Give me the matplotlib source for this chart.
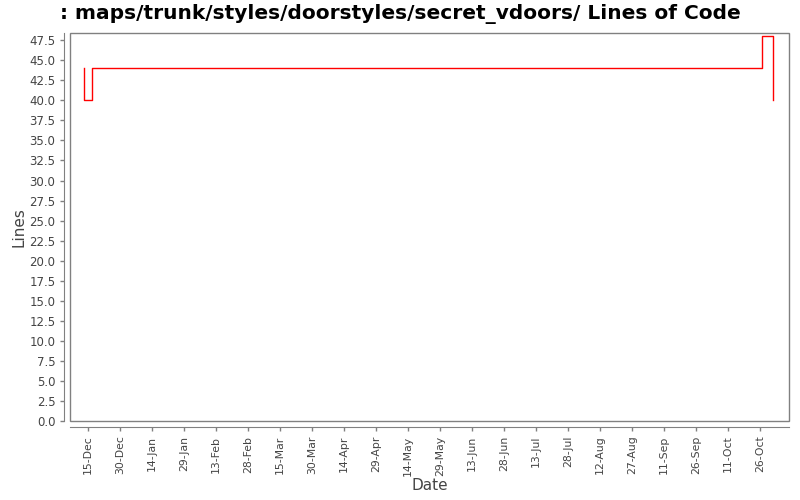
import numpy as np
import matplotlib
matplotlib.use("Agg")
import matplotlib.pyplot as plt
import matplotlib.dates as mdates
import pandas as pd
from matplotlib.patches import Rectangle

# data (step chart)
dates = pd.to_datetime(["2006-12-13 00:00", "2006-12-13 01:00", "2006-12-17 00:00",
                        "2007-10-27 00:00", "2007-11-01 00:00"])
lines = [44, 40, 44, 48, 40]

tick_dates = pd.date_range("2006-12-15", "2007-10-26", freq="15D")
yticks = np.arange(0, 48, 2.5)

fig = plt.figure(figsize=(8, 5), dpi=100)
ax = fig.add_axes([0.0875, 0.158, 0.8988, 0.776])

ax.step(dates, lines, where="post", color="red", linewidth=1)

ax.set_xlim(pd.Timestamp("2006-12-06 14:00"), pd.Timestamp("2007-11-08 12:00"))
ax.set_ylim(0, 48.4)

ax.set_xticks(tick_dates)
ax.xaxis.set_major_formatter(mdates.DateFormatter("%d-%b"))
ax.set_yticks(yticks)
ax.set_yticklabels([f"{v:.1f}" for v in yticks])

ax.tick_params(axis="both", colors="#808080", labelcolor="#444444",
               labelsize=8.5, length=3, width=1, direction="out")
ax.tick_params(axis="x", labelrotation=90, labelsize=7.8)

for side in ["top", "right"]:
    ax.spines[side].set_visible(False)
for side in ["left", "bottom"]:
    ax.spines[side].set_position(("outward", 4))
    ax.spines[side].set_color("#808080")

# plot area frame
ax.add_patch(Rectangle((0, 0), 1, 1, transform=ax.transAxes, fill=False,
                       edgecolor="#808080", linewidth=1, clip_on=False))

ax.set_xlabel("Date", fontsize=11, color="#444444", labelpad=2)
ax.set_ylabel("Lines", fontsize=11, color="#444444", labelpad=2)

fig.text(0.5, 0.972, ": maps/trunk/styles/doorstyles/secret_vdoors/ Lines of Code",
         fontsize=14.5, fontweight="bold", ha="center", va="center")

plt.savefig("out.png", dpi=100)
